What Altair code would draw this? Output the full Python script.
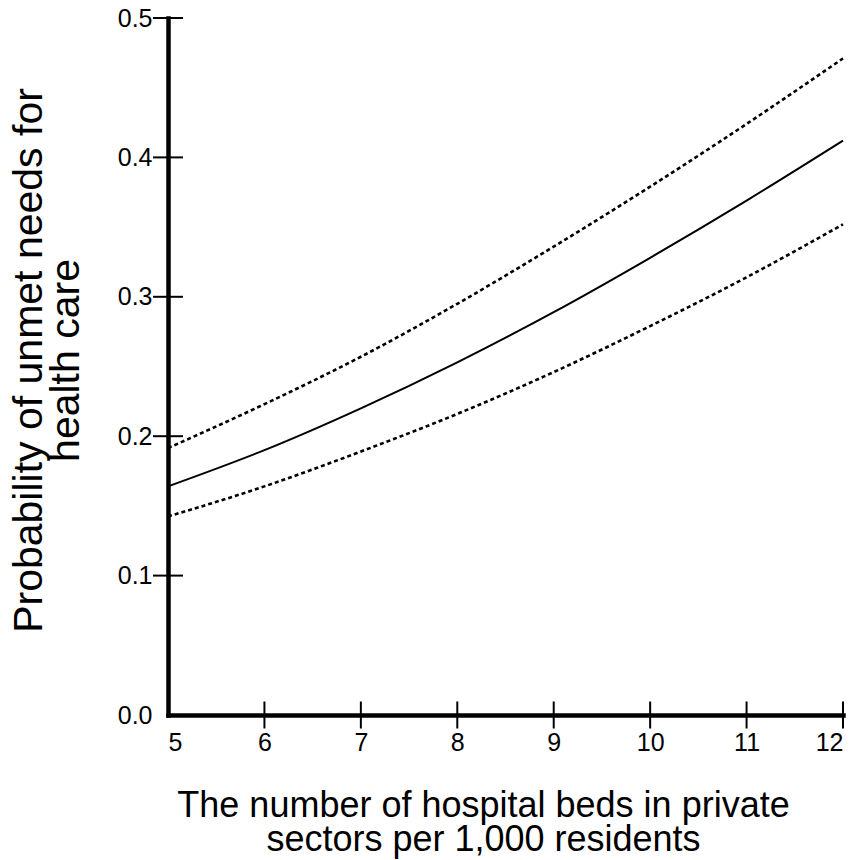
import altair as alt
import pandas as pd

# Data
beds = [5, 6, 7, 8, 9, 10, 11, 12]
prob = [0.164, 0.190, 0.220, 0.253, 0.289, 0.328, 0.369, 0.412]
upper = [0.1915, 0.223, 0.257, 0.295, 0.336, 0.379, 0.424, 0.471]
lower = [0.1424, 0.164, 0.189, 0.216, 0.246, 0.279, 0.314, 0.352]

x_labels = [5, 6, 7, 8, 9, 10, 11, 12]
y_labels = [0.0, 0.1, 0.2, 0.3, 0.4, 0.5]
x_ticks = [6, 7, 8, 9, 10, 11, 12]
y_ticks = [0.1, 0.2, 0.3, 0.4, 0.5]

FONT = "Liberation Sans"

df = pd.DataFrame({"beds": beds, "prob": prob, "upper": upper, "lower": lower})
xt = pd.DataFrame({"v": x_ticks})
yt = pd.DataFrame({"v": y_ticks})

xscale = alt.Scale(domain=[5, 12], nice=False, zero=False)
yscale = alt.Scale(domain=[0, 0.5], nice=False)

xaxis = alt.Axis(
    values=x_labels, format="d", labelPadding=15,
    title=["The number of hospital beds in private", "sectors per 1,000 residents"],
    titleFontSize=36, titleLineHeight=34, titleBaseline="alphabetic", titleAlign="center",
    titleX=315, titleY=101,
)
yaxis = alt.Axis(
    values=y_labels, format=".1f", labelPadding=16,
    title=["Probability of unmet needs for", "health care"],
    titleFontSize=41, titleLineHeight=37, titleBaseline="alphabetic", titleAlign="center",
    titleAngle=270, titleX=-127, titleY=342,
)

base = alt.Chart(df)
solid = base.mark_line(color="black", strokeWidth=2, interpolate="monotone").encode(
    x=alt.X("beds:Q", scale=xscale, axis=xaxis),
    y=alt.Y("prob:Q", scale=yscale, axis=yaxis),
)
up = base.mark_line(color="black", strokeWidth=2.6, strokeDash=[4, 3], interpolate="monotone").encode(
    x=alt.X("beds:Q", scale=xscale, axis=xaxis), y=alt.Y("upper:Q", scale=yscale, axis=yaxis)
)
lo = base.mark_line(color="black", strokeWidth=2.6, strokeDash=[4, 3], interpolate="monotone").encode(
    x=alt.X("beds:Q", scale=xscale, axis=xaxis), y=alt.Y("lower:Q", scale=yscale, axis=yaxis)
)
xtick = alt.Chart(xt).mark_tick(orient="vertical", size=27, thickness=2, color="black", opacity=1).encode(
    x=alt.X("v:Q", scale=xscale, axis=xaxis), y=alt.datum(0, scale=yscale)
)
ytick = alt.Chart(yt).mark_tick(orient="horizontal", size=30, thickness=2, color="black", opacity=1).encode(
    y=alt.Y("v:Q", scale=yscale, axis=yaxis), x=alt.datum(5, scale=xscale)
)

chart = alt.layer(solid, up, lo, xtick, ytick).properties(
    width=675, height=697,
    autosize=alt.AutoSizeParams(type="none"),
    padding={"left": 160, "top": 10, "right": 4, "bottom": 145},
    background="white",
).configure_view(stroke=None).configure_axis(
    ticks=False, tickSize=0, grid=False,
    labelFont=FONT, labelFontSize=25, labelColor="black",
    domainColor="black", domainWidth=4.5, domainCap="square",
    titleFont=FONT, titleFontWeight="normal", titleColor="black",
)

chart.save("out.html", embed_options={"renderer": "svg", "actions": False})
